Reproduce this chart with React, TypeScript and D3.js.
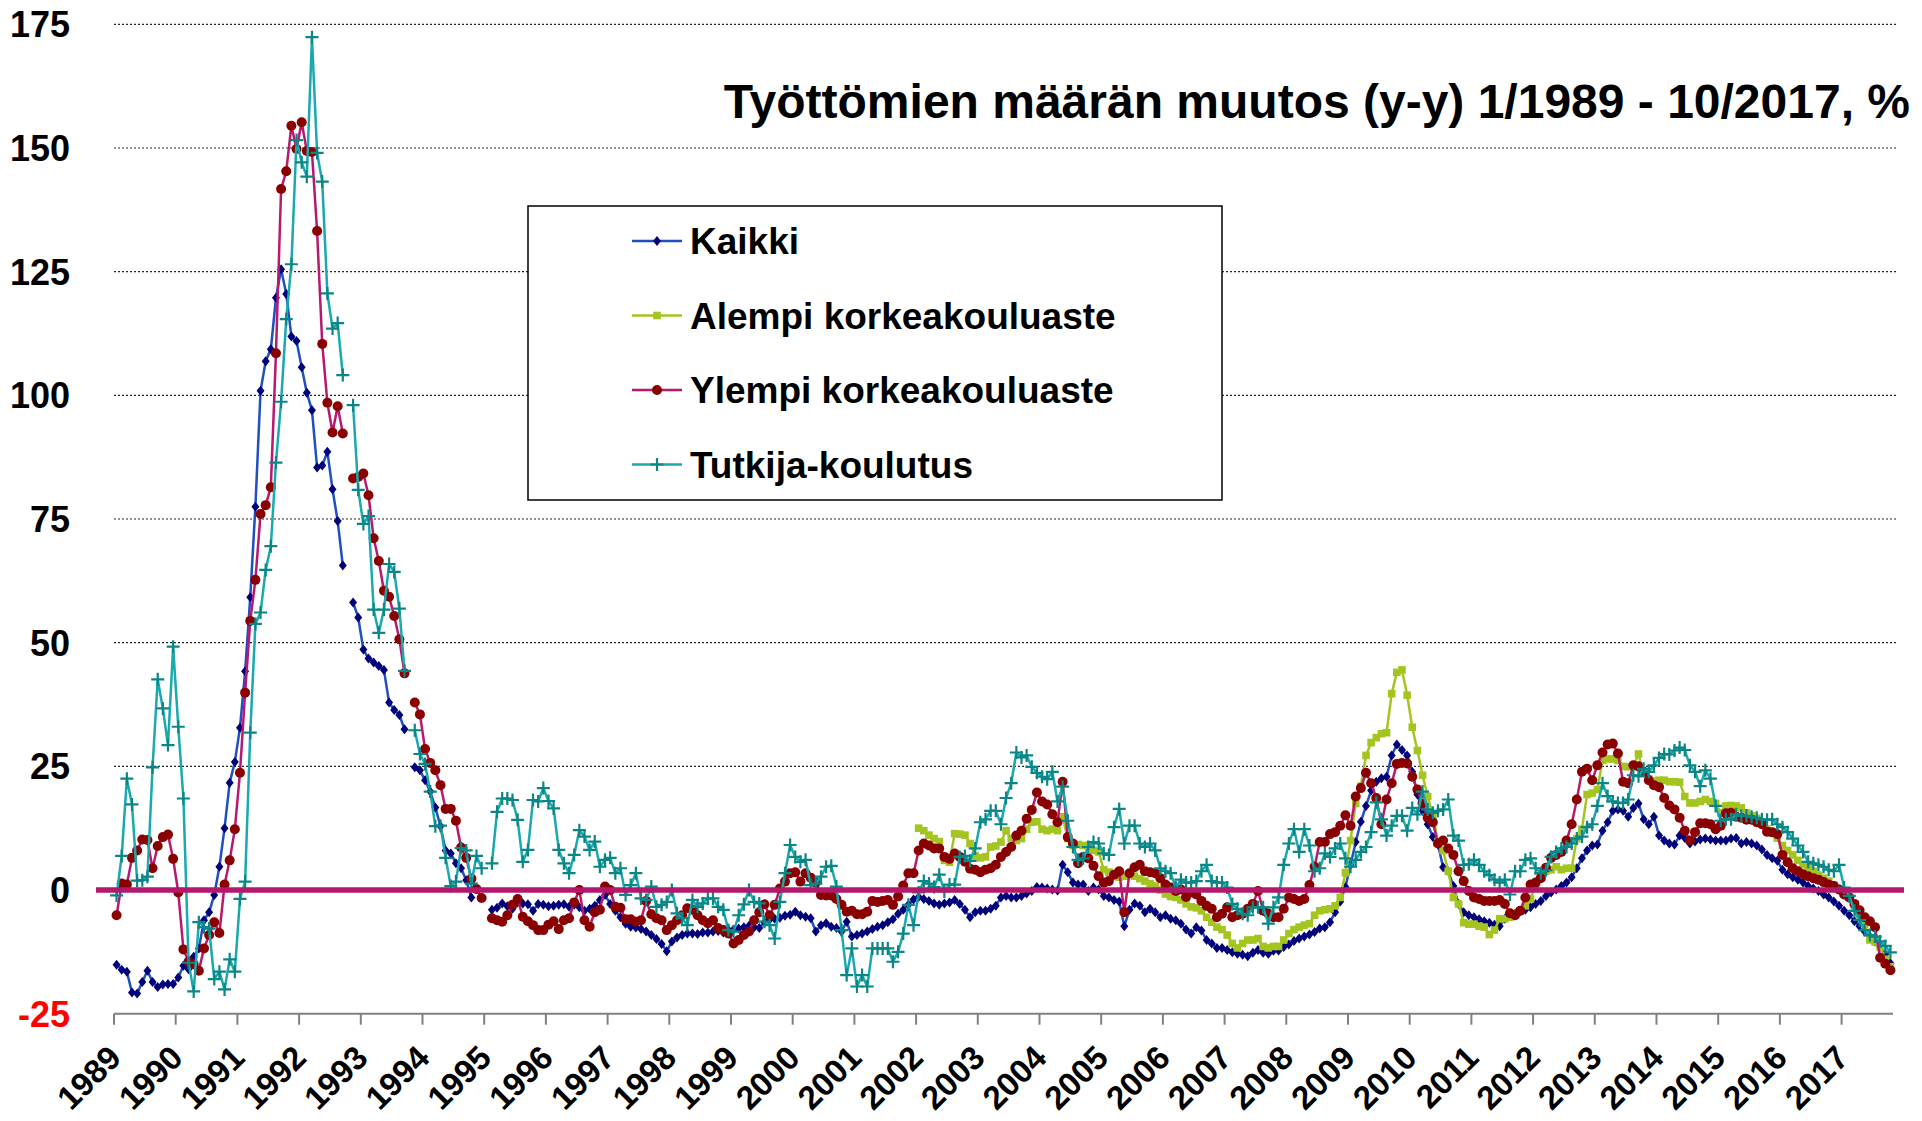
import React, { useRef, useEffect } from 'react'
import * as d3 from 'd3'

const title = 'Työttömien määrän muutos (y-y) 1/1989 - 10/2017, %'

const yearLabels = [
  '1989', '1990', '1991', '1992', '1993', '1994', '1995', '1996', '1997', '1998',
  '1999', '2000', '2001', '2002', '2003', '2004', '2005', '2006', '2007', '2008',
  '2009', '2010', '2011', '2012', '2013', '2014', '2015', '2016', '2017',
]

const yTicks = [-25, 0, 25, 50, 75, 100, 125, 150, 175]

// monthly y-y change, 1/1989 - 10/2017 (null = no value)
const kaikki: (number | null)[] = [
  -15.1, -16.1, -16.5, -20.7, -20.9, -18.6, -16.3, -18.6, -19.6, -19.1, -19.0, -19.0,
  -17.7, -15.3, -16.0, -13.5, -11.8, -6.1, -4.5, -1.0, 4.7, 12.5, 21.7, 25.9,
  32.8, 44.2, 59.2, 77.5, 100.9, 106.9, 109.3, 119.7, 125.5, 120.5, 111.9, 111.0,
  105.7, 100.5, 97.0, 85.4, 85.8, 88.6, 81.0, 74.6, 65.6, null, 58.1, 55.1,
  48.6, 46.8, 46.0, 45.3, 44.5, 37.9, 36.4, 35.4, 32.5, null, 24.8, 24.2,
  22.2, 19.9, 16.7, 12.9, 8.0, 7.4, 5.4, 4.4, 2.0, -1.5, null, null,
  null, -4.0, -3.6, -2.7, -3.3, -3.8, -2.5, -2.7, -2.9, -4.2, -2.8, -3.0,
  -3.3, -3.2, -3.0, -2.9, -3.4, -3.0, -3.5, -4.2, -3.8, -3.2, -2.0, -1.0,
  -2.8, -4.2, -5.5, -6.8, -7.4, -7.6, -7.9, -8.4, -9.1, -9.9, -10.9, -12.4,
  -10.4, -9.6, -9.1, -8.8, -8.8, -8.9, -8.6, -8.6, -8.4, -8.3, -8.6, -8.1,
  -8.0, -7.8, -7.5, -7.2, -7.5, -7.7, -6.5, -6.0, -5.8, -5.6, -5.2, -5.0,
  -4.4, -5.1, -5.4, -5.7, -8.4, -7.1, -6.7, -7.4, -7.7, -8.4, -6.4, -9.4,
  -9.1, -8.8, -8.4, -7.9, -7.4, -7.1, -6.5, -5.9, -4.8, -4.0, -3.0, -1.9,
  -1.4, -1.8, -2.2, -2.7, -3.0, -2.7, -2.5, -2.0, -2.8, -4.0, -5.5, -4.5,
  -4.2, -4.2, -3.8, -3.2, -1.5, -1.2, -1.5, -1.5, -1.2, -0.7, -0.2, 0.6,
  0.5, 0.3, 0.1, -0.1, 5.1, 3.6, 1.5, 1.1, 1.1, -0.2, 0.5, 0.1,
  -1.2, -1.5, -2.0, -2.3, -7.3, -4.0, -2.7, -3.2, -4.5, -3.8, -4.5, -5.5,
  -5.1, -5.8, -6.1, -6.8, -8.0, -8.8, -7.5, -8.2, -10.1, -10.8, -11.7, -11.7,
  -12.1, -12.6, -12.9, -13.1, -13.4, -12.7, -12.1, -12.7, -12.9, -12.3, -12.2, -11.5,
  -11.0, -10.3, -9.8, -9.4, -9.0, -8.5, -7.8, -7.5, -6.5, -4.5, -2.3, 0.6,
  5.1, 9.7, 13.8, 17.0, 20.1, 21.9, 22.6, 22.9, 27.2, 29.4, 28.3, 27.2,
  23.9, 19.3, 16.0, 13.3, 10.7, 9.2, 4.6, 3.8, 0.8, -2.8, -4.5, -5.1,
  -5.5, -5.9, -6.3, -6.6, -7.0, -7.3, -5.8, -5.2, -4.8, -4.3, -4.0, -3.5,
  -2.8, -2.2, -1.2, -0.5, 0.1, 0.8, 1.5, 2.6, 4.4, 6.4, 8.0, 9.0,
  9.2, 12.0, 13.7, 16.0, 16.3, 16.0, 14.8, 16.6, 17.5, 14.3, 13.3, 14.8,
  11.0, 10.0, 9.4, 9.2, 11.0, 10.5, 9.4, 9.8, 10.2, 10.4, 10.2, 10.0,
  10.0, 10.0, 10.4, 10.5, 9.4, 9.7, 9.4, 9.0, 8.2, 7.1, 6.4, 5.9,
  4.1, 3.2, 2.6, 2.1, 1.5, 0.8, 0.3, -0.2, -0.9, -1.5, -2.3, -3.2,
  -4.2, -5.1, -6.3, -7.3, -8.4, -9.4, -10.4, -11.4, -13.0, -14.8,
]

// Alempi korkeakouluaste starts 1/2002
const alempiStart = 156
const alempi: (number | null)[] = [
  12.5, 12.0, 11.1, 10.4, 9.8, 6.0, 5.6, 11.4, 11.3, 11.1, 9.4, 6.9,
  6.5, 6.7, 8.7, 8.9, 9.7, 12.0, 10.4, 10.0, 10.4, 12.3, 13.7, 13.8,
  12.3, 12.0, 12.3, 12.0, 14.8, 10.4, 9.0, 9.2, 9.0, 8.9, 8.0, 7.7,
  4.1, 3.6, 3.1, 2.6, 2.8, 3.1, 2.8, 2.3, 1.8, 1.3, 0.8, 0.0,
  -0.8, -1.3, -1.5, -2.0, -2.8, -3.4, -3.6, -4.2, -5.5, -6.5, -7.5, -8.0,
  -9.1, -10.8, -11.7, -10.8, -10.1, -10.1, -9.8, -11.4, -11.7, -11.4, -11.4, -10.1,
  -8.8, -8.0, -7.5, -7.1, -6.8, -5.1, -4.2, -4.0, -3.8, -3.2, -1.5, 3.5,
  10.0, 17.5, 21.0, 27.2, 29.8, 30.8, 31.6, 31.8, 39.7, 44.0, 44.5, 39.4,
  32.9, 28.2, 23.2, 18.9, 15.0, 9.8, 8.0, 3.8, -1.5, -2.8, -6.6, -6.9,
  -6.9, -7.3, -7.5, -9.0, -8.1, -5.8, -5.8, -5.5, -4.8, -4.2, -3.2, -1.8,
  1.1, 2.8, 3.8, 4.1, 4.7, 4.1, 4.4, 4.4, 10.4, 12.3, 19.3, 19.6,
  20.3, 26.2, 26.5, 26.5, 26.2, 25.0, 24.9, 25.0, 27.5, 23.5, 22.5, 22.0,
  22.2, 22.2, 21.9, 21.9, 21.8, 18.9, 17.6, 17.6, 17.9, 18.3, 17.9, 17.5,
  15.6, 17.0, 17.1, 17.0, 16.6, 15.6, 15.0, 14.5, 13.5, 12.3, 11.5, 10.5,
  9.0, 8.0, 7.1, 6.0, 5.1, 4.5, 3.8, 3.0, 2.4, 1.8, 1.0, 0.2,
  -0.3, -1.5, -3.5, -5.0, -7.0, -10.1, -10.5, -11.5, -14.0, -15.5,
]

const ylempi: (number | null)[] = [
  -5.1, 1.3, 1.1, 6.5, 8.0, 10.2, 10.1, 4.4, 8.9, 10.7, 11.2, 6.3,
  -0.5, -12.0, -14.5, -15.0, -16.3, -11.8, -9.1, -6.5, -8.7, 1.1, 6.0, 12.3,
  23.7, 39.9, 54.4, 62.7, 76.0, 77.8, 81.4, 108.5, 141.7, 145.3, 154.5, 149.8,
  155.2, 149.4, 149.2, 133.2, 110.4, 98.5, 92.5, 97.8, 92.3, null, 83.2, 83.5,
  84.2, 79.8, 71.1, 66.5, 60.5, 59.3, 55.4, 50.7, 43.8, null, 37.9, 35.5,
  28.5, 25.7, 24.2, 21.2, 16.4, 16.4, 14.0, 8.6, 6.5, 2.3, 0.2, -1.6,
  null, -5.7, -6.1, -6.4, -5.1, -3.0, -1.8, -5.4, -6.3, -7.1, -8.1, -8.1,
  -7.0, -6.3, -7.9, -6.1, -5.7, -2.5, 0.0, -6.1, -7.4, -4.5, -4.0, 0.7,
  0.0, -3.4, -3.6, -5.9, -5.9, -6.4, -6.1, -2.2, -4.9, -5.7, -6.1, -8.1,
  -7.1, -6.1, -5.1, -3.7, -4.0, -5.1, -6.1, -6.7, -6.1, -7.7, -8.1, -8.8,
  -10.8, -10.1, -9.1, -8.4, -6.1, -4.5, -2.9, -5.1, -3.0, 0.3, 1.7, 3.4,
  3.6, 1.7, 3.4, 2.5, 1.5, -1.0, -1.1, -1.1, -1.8, -3.0, -4.4, -4.2,
  -4.9, -4.9, -4.4, -2.2, -2.4, -2.2, -2.0, -3.0, -1.3, 0.9, 3.4, 3.4,
  8.0, 9.4, 9.0, 8.4, 8.4, 6.7, 6.3, 7.4, 6.7, 5.7, 4.3, 4.1,
  3.6, 4.1, 4.4, 5.1, 6.7, 7.7, 8.7, 11.0, 12.0, 14.4, 16.2, 19.7,
  17.9, 17.3, 15.3, 13.7, 21.9, 10.7, 9.4, 5.4, 6.7, 6.4, 4.9, 2.8,
  1.5, 1.8, 3.1, 3.8, -4.5, 3.4, 4.6, 5.1, 3.8, 3.6, 3.4, 2.4,
  1.1, 0.5, -0.2, 0.1, -1.4, -0.5, -0.9, -2.2, -3.2, -3.8, -5.5, -4.8,
  -3.5, -5.5, -5.1, -4.8, -3.8, -2.8, -0.2, -4.2, -4.8, -5.5, -5.5, -3.8,
  -1.5, -1.8, -2.2, -1.8, 1.0, 4.7, 9.7, 9.7, 11.3, 11.7, 13.0, 15.1,
  13.0, 18.9, 20.6, 23.7, 21.6, 18.6, 13.3, 18.3, 21.6, 25.5, 25.7, 25.6,
  22.9, 20.3, 17.5, 14.6, 13.7, 9.4, 10.0, 8.4, 7.1, 3.8, 1.8, -0.2,
  -1.5, -1.8, -2.2, -2.2, -2.2, -2.0, -2.8, -4.7, -5.1, -4.2, -1.5, 1.1,
  1.5, 2.4, 4.5, 6.5, 7.1, 7.7, 10.0, 13.3, 18.3, 23.9, 24.5, 22.2,
  25.2, 27.8, 29.4, 29.6, 27.6, 21.9, 21.6, 25.2, 25.0, 23.9, 22.2, 21.2,
  20.8, 18.6, 17.1, 16.3, 14.6, 12.0, 10.0, 11.7, 13.5, 13.5, 13.3, 12.3,
  13.0, 15.5, 15.6, 14.8, 14.6, 14.2, 14.2, 13.7, 13.3, 11.8, 11.7, 11.3,
  7.1, 5.6, 4.4, 3.8, 3.2, 2.8, 2.4, 2.1, 1.6, 1.1, 0.8, 0.1,
  -0.9, -1.5, -2.8, -4.1, -5.5, -6.3, -7.5, -13.7, -14.9, -16.2,
]

const tutkija: (number | null)[] = [
  -1.1, 6.9, 22.5, 17.3, 1.9, 2.0, 2.7, 24.8, 42.6, 36.7, 29.3, 49.2,
  33.0, 18.5, -14.7, -20.5, -6.5, -7.5, -7.8, -18.0, -16.5, -20.1, -14.0, -16.5,
  -1.8, 1.7, 31.8, 53.8, 56.1, 64.7, 69.5, 86.4, 98.7, 115.4, 126.5, 151.6,
  147.1, 144.2, 172.4, 149.0, 143.2, 120.6, 113.5, 114.6, 104.1, null, 98.0, 80.9,
  74.0, 75.6, 56.7, 52.0, 56.7, 65.9, 64.3, 56.9, 44.3, null, 32.3, 27.5,
  25.5, 19.9, 12.9, 13.0, 6.5, 0.8, 1.7, 8.5, 8.0, 1.3, 6.9, 4.4,
  null, 5.4, 15.8, 18.5, 18.5, 18.2, 14.2, 5.7, 8.1, 18.2, 17.9, 20.6,
  18.0, 16.5, 8.1, 5.4, 3.4, 7.1, 12.1, 10.8, 8.1, 9.8, 4.7, 6.1,
  6.5, 3.4, 4.4, -1.0, 1.0, 3.4, -1.7, -2.0, 0.7, -3.4, -3.0, -2.4,
  0.0, -4.7, -5.7, -7.1, -2.0, -3.4, -2.7, -1.7, -1.7, -3.4, -4.0, -8.1,
  -8.4, -5.1, -2.9, 0.0, -2.4, -2.7, -6.4, -7.1, -9.8, -2.4, 3.4, 9.1,
  6.7, 5.7, 6.1, 1.0, 1.3, 2.7, 4.7, 4.9, 0.7, -8.1, -17.2, -11.8,
  -19.5, -17.2, -19.5, -11.8, -11.8, -11.8, -11.8, -14.5, -12.5, -8.8, -3.0, -7.1,
  -0.5, 1.8, 1.3, 0.6, 3.1, -0.3, 1.1, 1.1, 6.7, 6.9, 5.9, 8.4,
  13.7, 14.3, 16.0, 16.0, 13.3, 18.6, 21.6, 27.8, 26.8, 27.2, 24.9, 23.7,
  22.9, 22.4, 23.9, 17.9, 20.9, 14.0, 8.7, 6.1, 6.4, 8.7, 9.7, 9.4,
  7.4, 7.1, 12.7, 16.4, 9.4, 13.0, 13.0, 9.4, 8.7, 9.4, 8.0, 4.4,
  3.8, 3.4, 0.5, 2.1, 1.5, 1.5, 1.8, 3.8, 5.1, 1.8, 1.5, 1.5,
  0.5, -2.8, -3.8, -4.8, -5.1, -3.5, -3.5, -3.5, -6.8, -3.5, -1.5, 5.1,
  9.4, 12.3, 7.7, 12.3, 9.0, 3.8, 4.4, 7.4, 6.7, 8.4, 9.4, 6.4,
  4.7, 6.1, 7.7, 8.7, 11.7, 17.7, 14.3, 11.0, 13.0, 15.0, 15.0, 12.0,
  16.6, 15.3, 19.9, 16.3, 15.6, 16.0, 16.3, 18.3, 11.0, 10.0, 5.1, 5.2,
  6.1, 5.1, 3.8, 3.0, 2.1, 1.5, 2.1, -0.9, 3.8, 3.8, 6.1, 6.4,
  4.4, 3.4, 4.0, 6.7, 7.7, 8.4, 8.7, 9.4, 10.4, 10.8, 12.7, 13.3,
  17.0, 21.6, 19.0, 17.9, 17.6, 17.6, 18.3, 23.2, 23.0, 24.5, 23.9, 25.2,
  26.7, 27.5, 27.4, 28.2, 28.8, 28.3, 25.2, 23.9, 21.0, 24.2, 22.5, 17.0,
  14.0, 14.3, 14.3, 15.3, 15.0, 15.0, 14.8, 14.6, 14.3, 14.2, 14.3, 13.3,
  12.7, 11.7, 10.4, 9.0, 7.7, 5.7, 5.4, 5.1, 4.7, 4.1, 3.8, 5.1,
  0.5, -1.2, -4.2, -6.1, -8.1, -9.1, -9.4, -10.4, -11.3, -12.6,
]

const W = 1922
const H = 1121
const FONT = "'Liberation Sans', Arial, Helvetica, sans-serif"

type Shape = 'diamond' | 'square' | 'circle' | 'plus'

const series: { name: string; start: number; values: (number | null)[]; line: string; marker: string; shape: Shape }[] = [
  { name: 'Kaikki', start: 0, values: kaikki, line: '#1f4fc0', marker: '#00007a', shape: 'diamond' },
  { name: 'Alempi korkeakouluaste', start: alempiStart, values: alempi, line: '#a4c520', marker: '#a4c520', shape: 'square' },
  { name: 'Ylempi korkeakouluaste', start: 0, values: ylempi, line: '#b8196f', marker: '#8a0000', shape: 'circle' },
  { name: 'Tutkija-koulutus', start: 0, values: tutkija, line: '#1aa9ae', marker: '#0b8686', shape: 'plus' },
]

function drawMarker(g: d3.Selection<SVGGElement, unknown, null, undefined>, shape: Shape, color: string) {
  if (shape === 'diamond') {
    g.append('path').attr('d', 'M0,-5L4,0L0,5L-4,0Z').attr('fill', color)
  } else if (shape === 'square') {
    g.append('rect').attr('x', -3.8).attr('y', -3.8).attr('width', 7.6).attr('height', 7.6).attr('fill', color)
  } else if (shape === 'circle') {
    g.append('circle').attr('r', 5).attr('fill', color)
  } else {
    g.append('path').attr('d', 'M-6.5,0H6.5M0,-6.5V6.5').attr('stroke', color).attr('stroke-width', 2.2).attr('fill', 'none')
  }
}

export default function App() {
  const svgRef = useRef<SVGSVGElement>(null)

  useEffect(() => {
    if (!svgRef.current) return
    const svg = d3.select(svgRef.current)
    svg.selectAll('*').remove()

    const n = kaikki.length
    const x = d3.scaleBand<number>().domain(d3.range(n)).range([114, 1893]).padding(0)
    const y = d3.scaleLinear().domain([-25, 175]).range([1013.7, 24.3])
    const cx = (i: number) => x(i)! + x.bandwidth() / 2

    svg.append('rect').attr('width', W).attr('height', H).attr('fill', '#fff')

    // dotted gridlines
    svg.append('g')
      .selectAll('line')
      .data(yTicks.filter(t => t > 0))
      .join('line')
      .attr('x1', 114)
      .attr('x2', 1896)
      .attr('y1', d => y(d))
      .attr('y2', d => y(d))
      .attr('stroke', '#222')
      .attr('stroke-width', 1.2)
      .attr('stroke-dasharray', '2,2')

    // y labels
    svg.append('g')
      .selectAll('text')
      .data(yTicks)
      .join('text')
      .attr('x', 70)
      .attr('y', d => y(d) + 13)
      .attr('text-anchor', 'end')
      .attr('font-family', FONT)
      .attr('font-weight', 'bold')
      .attr('font-size', 36)
      .attr('fill', d => (d < 0 ? '#ff0000' : '#000'))
      .text(d => d)

    // x axis
    const base = y(-25)
    const tickIdx = yearLabels.map((_, k) => k * 12)
    svg.append('line')
      .attr('x1', 114).attr('x2', 1893)
      .attr('y1', base).attr('y2', base)
      .attr('stroke', '#808080').attr('stroke-width', 2)
    svg.append('g')
      .selectAll('line')
      .data(tickIdx)
      .join('line')
      .attr('x1', d => x(d)!)
      .attr('x2', d => x(d)!)
      .attr('y1', base)
      .attr('y2', base + 11)
      .attr('stroke', '#808080')
      .attr('stroke-width', 2)
    svg.append('g')
      .selectAll('text')
      .data(yearLabels)
      .join('text')
      .attr('transform', (_, k) => `translate(${x(k * 12)! + 9},${base + 46}) rotate(-45)`)
      .attr('text-anchor', 'end')
      .attr('font-family', FONT)
      .attr('font-weight', 'bold')
      .attr('font-size', 33)
      .attr('fill', '#000')
      .text(d => d)

    // series
    series.forEach(s => {
      const pts = s.values.map((v, j) => ({ i: s.start + j, v }))
      const line = d3.line<{ i: number; v: number | null }>()
        .defined(d => d.v !== null)
        .x(d => cx(d.i))
        .y(d => y(d.v as number))
      const g = svg.append('g')
      g.append('path')
        .datum(pts)
        .attr('d', line)
        .attr('fill', 'none')
        .attr('stroke', s.line)
        .attr('stroke-width', 2.5)
        .attr('stroke-linejoin', 'round')
      pts.filter(d => d.v !== null).forEach(d => {
        const m = g.append('g').attr('transform', `translate(${cx(d.i)},${y(d.v as number)})`)
        drawMarker(m, s.shape, s.marker)
      })
    })

    // zero line
    svg.append('line')
      .attr('x1', 96).attr('x2', 1904)
      .attr('y1', y(0)).attr('y2', y(0))
      .attr('stroke', '#b3186c')
      .attr('stroke-width', 5.5)

    // legend
    const lg = svg.append('g')
    lg.append('rect')
      .attr('x', 528).attr('y', 206)
      .attr('width', 694).attr('height', 294)
      .attr('fill', '#fff')
      .attr('stroke', '#000')
      .attr('stroke-width', 1.5)
    series.forEach((s, k) => {
      const ly = 241 + k * 74.5
      lg.append('line')
        .attr('x1', 632).attr('x2', 682)
        .attr('y1', ly).attr('y2', ly)
        .attr('stroke', s.line).attr('stroke-width', 2.5)
      drawMarker(lg.append('g').attr('transform', `translate(657,${ly})`), s.shape, s.marker)
      lg.append('text')
        .attr('x', 690)
        .attr('y', ly + 13)
        .attr('font-family', FONT)
        .attr('font-weight', 'bold')
        .attr('font-size', 37)
        .attr('fill', '#000')
        .text(s.name)
    })

    // title
    svg.append('text')
      .attr('x', 1910)
      .attr('y', 118)
      .attr('text-anchor', 'end')
      .attr('font-family', FONT)
      .attr('font-weight', 'bold')
      .attr('font-size', 48)
      .attr('fill', '#000')
      .text(title)
  }, [])

  return <svg ref={svgRef} width={W} height={H} style={{ position: 'fixed', left: 0, top: 0, display: 'block' }} />
}
